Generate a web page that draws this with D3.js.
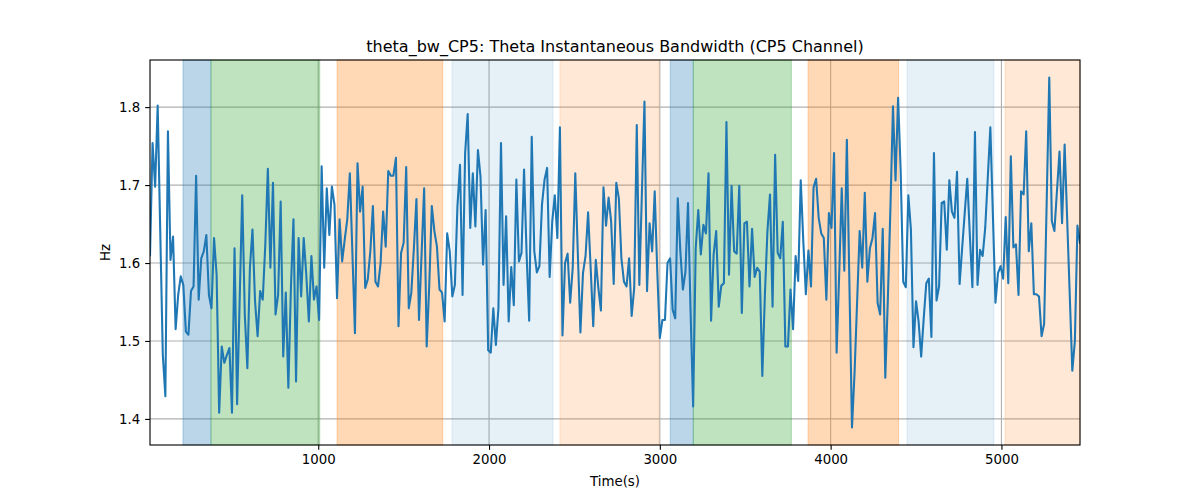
<!DOCTYPE html>
<html>
<head>
<meta charset="utf-8">
<script src="https://cdn.jsdelivr.net/npm/d3@7"></script>
<style>
  html, body { margin: 0; padding: 0; background: #fff; }
  svg { display: block; font-family: "DejaVu Sans", sans-serif; }
</style>
</head>
<body>
<svg id="chart" width="1200" height="500"></svg>
<script>
// ---- data ----
const titleText = "theta_bw_CP5: Theta Instantaneous Bandwidth (CP5 Channel)";
const xLabel = "Time(s)";
const yLabel = "Hz";
const startTime = 15;   // s, first sample
const sampleStep = 15;  // s between samples
const bandwidthHz = [
  1.61, 1.754, 1.698, 1.802, 1.64, 1.482, 1.429, 1.769, 1.604, 1.634,
  1.515, 1.559, 1.583, 1.572, 1.512, 1.508, 1.564, 1.570, 1.712, 1.553,
  1.606, 1.615, 1.636, 1.559, 1.542, 1.632, 1.585, 1.408, 1.493, 1.472,
  1.482, 1.491, 1.408, 1.619, 1.419, 1.553, 1.687, 1.534, 1.465, 1.594,
  1.643, 1.551, 1.506, 1.564, 1.553, 1.623, 1.721, 1.594, 1.703, 1.534,
  1.559, 1.679, 1.480, 1.562, 1.440, 1.568, 1.656, 1.448, 1.632, 1.557,
  1.632, 1.585,
  1.525, 1.609, 1.553, 1.570, 1.527, 1.724, 1.594, 1.696, 1.636, 1.698,
  1.675, 1.555, 1.656, 1.602, 1.630, 1.656, 1.715, 1.613, 1.510, 1.728,
  1.666, 1.698, 1.568, 1.579, 1.615, 1.673, 1.576, 1.570, 1.600, 1.666,
  1.621, 1.718, 1.712, 1.712, 1.735, 1.519, 1.613, 1.626, 1.723, 1.542,
  1.562, 1.619, 1.682, 1.527, 1.611, 1.696, 1.493, 1.572, 1.673, 1.641,
  1.621, 1.566, 1.562, 1.525, 1.638, 1.615, 1.557, 1.572, 1.673, 1.726,
  1.559, 1.741, 1.791, 1.645, 1.715, 1.647, 1.745, 1.711, 1.598, 1.668,
  1.488, 1.485, 1.542, 1.495, 1.542, 1.754, 1.572, 1.660, 1.525, 1.595,
  1.546, 1.707, 1.602, 1.613, 1.720, 1.611, 1.526, 1.762, 1.615, 1.588,
  1.596, 1.675, 1.707, 1.722, 1.582, 1.653, 1.687, 1.632, 1.774, 1.507,
  1.600, 1.612, 1.549, 1.594, 1.715, 1.611, 1.511, 1.587, 1.609, 1.665,
  1.594, 1.519, 1.604, 1.568, 1.539, 1.697, 1.648, 1.684, 1.653, 1.573,
  1.703,
  1.683, 1.606, 1.576, 1.570, 1.606, 1.532, 1.568, 1.777, 1.572, 1.690,
  1.807, 1.564, 1.651, 1.615, 1.692, 1.589, 1.504, 1.527, 1.527, 1.600,
  1.606, 1.540, 1.529, 1.683, 1.615, 1.566, 1.589, 1.677, 1.538, 1.416,
  1.619, 1.668, 1.611, 1.649, 1.638, 1.715, 1.526, 1.611, 1.641, 1.544,
  1.571, 1.574, 1.781, 1.585, 1.699, 1.615, 1.612, 1.699, 1.536, 1.651,
  1.653, 1.570, 1.644, 1.582, 1.594, 1.589, 1.455, 1.559, 1.641, 1.688,
  1.544, 1.739, 1.613, 1.606, 1.653, 1.493, 1.493, 1.566, 1.515, 1.609,
  1.577, 1.706, 1.628, 1.560, 1.616, 1.570, 1.697, 1.708, 1.658, 1.638,
  1.632, 1.553, 1.664, 1.645, 1.741, 1.485, 1.585, 1.696, 1.590, 1.758,
  1.572, 1.389, 1.459, 1.550, 1.641, 1.594, 1.690, 1.576, 1.619, 1.632,
  1.664, 1.549, 1.534, 1.644, 1.453, 1.554, 1.670, 1.801, 1.706, 1.812,
  1.718, 1.576, 1.569, 1.687, 1.643, 1.492, 1.551, 1.525, 1.480, 1.529,
  1.574,
  1.580, 1.505, 1.741, 1.552, 1.570, 1.677, 1.679, 1.617, 1.706, 1.666,
  1.658, 1.717, 1.573, 1.619, 1.664, 1.708, 1.636, 1.569, 1.768, 1.572,
  1.617, 1.609, 1.645, 1.709, 1.774, 1.662, 1.549, 1.587, 1.596, 1.580,
  1.659, 1.574, 1.737, 1.620, 1.624, 1.559, 1.692, 1.688, 1.769, 1.615,
  1.651, 1.560, 1.560, 1.557, 1.506, 1.522, 1.679, 1.838, 1.654, 1.641,
  1.692, 1.743, 1.651, 1.752, 1.655, 1.559, 1.462, 1.500, 1.648, 1.626
];
// shaded phases: start, end (s) and kind
const bandStarts = [208, 372, 1110, 1783, 2415, 3061, 3196, 3868, 4447, 5021];
const bandEnds   = [372, 1009, 1729, 2375, 2995, 3196, 3770, 4398, 4955, 5460];
const bandKinds  = ["blue", "green", "orange", "lightblue", "lightorange",
                    "blue", "green", "orange", "lightblue", "lightorange"];
const xTicks = [1000, 2000, 3000, 4000, 5000];
const yTicks = [1.4, 1.5, 1.6, 1.7, 1.8];

// ---- styles ----
const bandStyle = {
  blue:        { color: "#1f77b4", alpha: 0.3 },
  green:       { color: "#2ca02c", alpha: 0.3 },
  orange:      { color: "#ff7f0e", alpha: 0.3 },
  lightblue:   { color: "#1f77b4", alpha: 0.11 },
  lightorange: { color: "#ff7f0e", alpha: 0.17 }
};

const times = bandwidthHz.map((_, i) => startTime + i * sampleStep);
const data = times.map((t, i) => ({ t, v: bandwidthHz[i] }));
const bands = bandStarts.map((s, i) => ({ s, e: bandEnds[i], kind: bandKinds[i] }));

const m = { left: 150, right: 1080, top: 60, bottom: 445 };
const PT = 100 / 72;

const svg = d3.select("#chart");

const x = d3.scaleLinear()
  .domain(d3.extent(times))
  .range([m.left, m.right]);

const [vmin, vmax] = d3.extent(bandwidthHz);
const pad = (vmax - vmin) * 0.05;
const y = d3.scaleLinear()
  .domain([vmin - pad, vmax + pad])
  .range([m.bottom, m.top]);

// grid
const grid = svg.append("g");
grid.selectAll("line.gx").data(xTicks).enter().append("line")
  .attr("x1", d => x(d)).attr("x2", d => x(d))
  .attr("y1", m.top).attr("y2", m.bottom)
  .attr("stroke", "#b0b0b0").attr("stroke-width", 0.8 * PT);
grid.selectAll("line.gy").data(yTicks).enter().append("line")
  .attr("x1", m.left).attr("x2", m.right)
  .attr("y1", d => y(d)).attr("y2", d => y(d))
  .attr("stroke", "#b0b0b0").attr("stroke-width", 0.8 * PT);

// bands
svg.append("g").selectAll("rect").data(bands).enter().append("rect")
  .attr("x", d => x(d.s))
  .attr("width", d => x(d.e) - x(d.s))
  .attr("y", m.top)
  .attr("height", m.bottom - m.top)
  .attr("fill", d => bandStyle[d.kind].color)
  .attr("fill-opacity", d => bandStyle[d.kind].alpha)
  .attr("stroke", d => bandStyle[d.kind].color)
  .attr("stroke-opacity", d => bandStyle[d.kind].alpha)
  .attr("stroke-width", 1);

// line
svg.append("defs").append("clipPath").attr("id", "clip")
  .append("rect").attr("x", m.left).attr("y", m.top)
  .attr("width", m.right - m.left).attr("height", m.bottom - m.top);

svg.append("path")
  .datum(data)
  .attr("clip-path", "url(#clip)")
  .attr("fill", "none")
  .attr("stroke", "#1f77b4")
  .attr("stroke-width", 1.5 * PT)
  .attr("stroke-linejoin", "round")
  .attr("stroke-linecap", "square")
  .attr("d", d3.line().x(d => x(d.t)).y(d => y(d.v)));

// axes
const xAxis = d3.axisBottom(x).tickValues(xTicks).tickFormat(d3.format("d"))
  .tickSizeInner(3.5 * PT).tickSizeOuter(0).tickPadding(3.5 * PT);
const gx = svg.append("g").attr("transform", `translate(0,${m.bottom})`).call(xAxis);
const yAxis = d3.axisLeft(y).tickValues(yTicks).tickFormat(d3.format(".1f"))
  .tickSizeInner(3.5 * PT).tickSizeOuter(0).tickPadding(3.5 * PT);
const gy = svg.append("g").attr("transform", `translate(${m.left},0)`).call(yAxis);

[gx, gy].forEach(g => {
  g.select(".domain").remove();
  g.selectAll(".tick line").attr("stroke", "#000").attr("stroke-width", 0.8 * PT);
  g.selectAll(".tick text").attr("fill", "#000")
    .style("font-family", "'DejaVu Sans', sans-serif").style("font-size", "13.33px");
});

// frame
svg.append("rect")
  .attr("x", m.left).attr("y", m.top)
  .attr("width", m.right - m.left).attr("height", m.bottom - m.top)
  .attr("fill", "none").attr("stroke", "#000").attr("stroke-width", 0.8 * PT);

// labels
svg.append("text")
  .attr("x", (m.left + m.right) / 2).attr("y", 52)
  .attr("text-anchor", "middle")
  .style("font-size", "16px")
  .text(titleText);

svg.append("text")
  .attr("x", (m.left + m.right) / 2).attr("y", 486)
  .attr("text-anchor", "middle")
  .style("font-size", "13.33px")
  .text(xLabel);

svg.append("text")
  .attr("transform", `translate(110,${(m.top + m.bottom) / 2}) rotate(-90)`)
  .attr("text-anchor", "middle")
  .style("font-size", "13.33px")
  .text(yLabel);
</script>
</body>
</html>
